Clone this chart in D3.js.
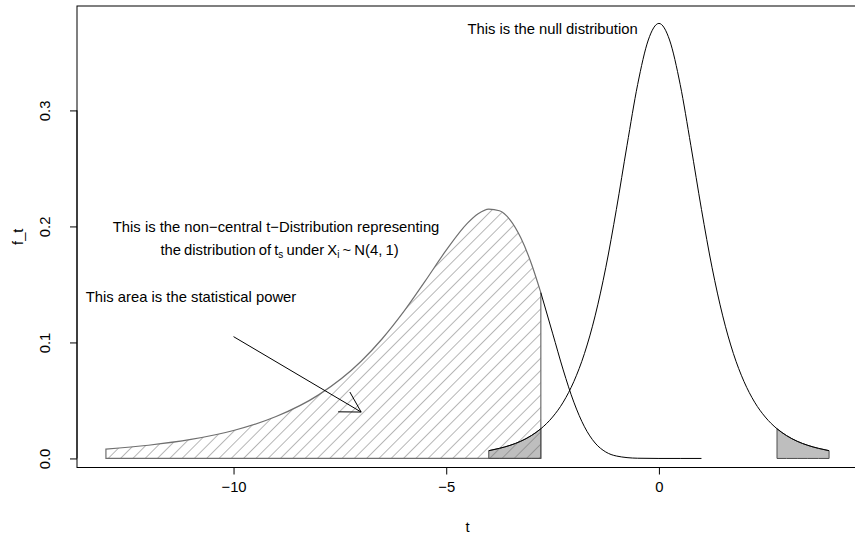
<!DOCTYPE html>
<html lang="en">
<head>
<meta charset="utf-8">
<title>power of the t-test</title>
<script src="https://d3js.org/d3.v7.min.js"></script>
<style>
  body { margin: 0; background: #fff; }
  svg text { font-family: "Liberation Sans", Arial, Helvetica, sans-serif; font-size: 14.8px; fill: #000; }
</style>
</head>
<body>
<svg width="855" height="536"></svg>
<script>
// null distribution (central t, 4 df)
var nullT = [-4, -3.75, -3.5, -3.25, -3, -2.776, -2.5, -2.25, -2, -1.75, -1.5, -1.25, -1, -0.75, -0.5, -0.25, 0,
             0.25, 0.5, 0.75, 1, 1.25, 1.5, 1.75, 2, 2.25, 2.5, 2.776, 3, 3.25, 3.5, 3.75, 4];
var nullF = [0.0067, 0.0087, 0.0113, 0.0148, 0.0197, 0.0256, 0.0357, 0.0485, 0.0663, 0.0905, 0.1229, 0.1644, 0.2147, 0.2699, 0.3223, 0.3607, 0.375,
             0.3607, 0.3223, 0.2699, 0.2147, 0.1644, 0.1229, 0.0905, 0.0663, 0.0485, 0.0357, 0.0256, 0.0197, 0.0148, 0.0113, 0.0087, 0.0067];

// non-central t, the skewed curve on the left
var ncT = [-13, -12, -11, -10, -9, -8, -7, -6.5, -6, -5.5, -5, -4.5, -4.25, -4, -3.75, -3.5, -3.25, -3, -2.776,
           -2.5, -2.25, -2, -1.75, -1.5, -1.25, -1, -0.5, 0, 0.5, 1];
var ncF = [0.0081, 0.0114, 0.0164, 0.0241, 0.0361, 0.0548, 0.0838, 0.1034, 0.1265, 0.1526, 0.1795, 0.2028, 0.2109, 0.2149, 0.2135, 0.2057, 0.1904, 0.1681, 0.1429,
           0.1080, 0.0763, 0.0485, 0.0273, 0.0133, 0.0056, 0.0021, 0.0002, 0, 0, 0];

var critT = 2.776;
var xTicks = [-10, -5, 0];
var yTicks = [0, 0.1, 0.2, 0.3];

var svg = d3.select("svg");
var box = {left: 77, right: 858, top: 6, bottom: 467.5};

var xScale = d3.scaleLinear().domain([-13.68, 4.68]).range([box.left, box.right]);
var yScale = d3.scaleLinear().domain([-0.0078, 0.39]).range([box.bottom, box.top]);

var nullData = nullT.map((t, i) => ({t: t, f: nullF[i]}));
var ncData = ncT.map((t, i) => ({t: t, f: ncF[i]}));

var powerPart = ncData.filter(d => d.t <= -critT);
var ncRest = ncData.filter(d => d.t >= -critT);
var leftTail = nullData.filter(d => d.t <= -critT);
var rightTail = nullData.filter(d => d.t >= critT);

var line = d3.line()
    .x(d => xScale(d.t))
    .y(d => yScale(d.f))
    .curve(d3.curveMonotoneX);
var area = d3.area()
    .x(d => xScale(d.t))
    .y0(yScale(0))
    .y1(d => yScale(d.f))
    .curve(d3.curveMonotoneX);

// hatching like polygon(density=...)
var defs = svg.append("defs");
defs.append("pattern")
    .attr("id", "hatch")
    .attr("patternUnits", "userSpaceOnUse")
    .attr("width", 8.7)
    .attr("height", 8.7)
    .attr("patternTransform", "rotate(45)")
  .append("line")
    .attr("x1", 0).attr("y1", 0)
    .attr("x2", 0).attr("y2", 8.7)
    .attr("stroke", "#6e6e6e")
    .attr("stroke-width", 1);

// grey rejection tails
[leftTail, rightTail].forEach(function(tail) {
  svg.append("path")
      .datum(tail)
      .attr("fill", "#bebebe")
      .attr("stroke", "none")
      .attr("d", area);
});

// power area
svg.append("path")
    .datum(powerPart)
    .attr("fill", "url(#hatch)")
    .attr("stroke", "#6f6f6f")
    .attr("stroke-width", 1.2)
    .attr("d", area);

[leftTail, rightTail].forEach(function(tail) {
  svg.append("path")
      .datum(tail)
      .attr("fill", "none")
      .attr("stroke", "#4d4d4d")
      .attr("stroke-width", 1)
      .attr("d", area);
});

svg.append("path")
    .datum(ncRest)
    .attr("fill", "none")
    .attr("stroke", "#000")
    .attr("stroke-width", 1)
    .attr("d", line);

svg.append("path")
    .datum(nullData)
    .attr("fill", "none")
    .attr("stroke", "#000")
    .attr("stroke-width", 1)
    .attr("d", line);

// frame
svg.append("rect")
    .attr("x", box.left)
    .attr("y", box.top)
    .attr("width", box.right - box.left)
    .attr("height", box.bottom - box.top)
    .attr("fill", "none")
    .attr("stroke", "#000");

// axes, R style
var gx = svg.append("g")
    .attr("transform", `translate(0, ${box.bottom})`)
    .call(d3.axisBottom(xScale).tickValues(xTicks).tickSize(7).tickFormat(d => d3.format("d")(d)));
gx.select(".domain").remove();
gx.selectAll(".tick line").attr("stroke", "#000");
gx.selectAll(".tick text").attr("y", 24.5).attr("dy", 0);
gx.append("line")
    .attr("x1", xScale(xTicks[0])).attr("x2", xScale(xTicks[xTicks.length - 1]))
    .attr("stroke", "#000");

var gy = svg.append("g")
    .attr("transform", `translate(${box.left}, 0)`)
    .call(d3.axisLeft(yScale).tickValues(yTicks).tickSize(7).tickFormat(d3.format(".1f")));
gy.select(".domain").remove();
gy.selectAll(".tick line").attr("stroke", "#000");
gy.selectAll(".tick text")
    .attr("transform", "rotate(-90)")
    .attr("x", 0)
    .attr("y", -27)
    .attr("dy", 0)
    .attr("text-anchor", "middle");
gy.append("line")
    .attr("y1", yScale(yTicks[0])).attr("y2", yScale(yTicks[yTicks.length - 1]))
    .attr("stroke", "#000");

svg.append("text")
    .attr("x", (box.left + box.right) / 2)
    .attr("y", 532)
    .attr("text-anchor", "middle")
    .text("t");

svg.append("text")
    .attr("transform", `translate(23, ${(box.top + box.bottom) / 2}) rotate(-90)`)
    .attr("text-anchor", "middle")
    .text("f_t");

// annotations
svg.append("text")
    .attr("x", xScale(-2.5))
    .attr("y", yScale(0.37))
    .attr("dy", "0.35em")
    .attr("text-anchor", "middle")
    .text("This is the null distribution");

svg.append("text")
    .attr("x", xScale(-9))
    .attr("y", yScale(0.2))
    .attr("dy", "0.35em")
    .attr("text-anchor", "middle")
    .text("This is the non\u2212central t\u2212Distribution representing");

var line2 = svg.append("text")
    .attr("x", xScale(-8.92))
    .attr("y", yScale(0.18))
    .attr("dy", "0.35em")
    .attr("text-anchor", "middle")
    .attr("word-spacing", "-1px");
line2.append("tspan").text("the distribution of t");
line2.append("tspan").attr("dy", 3).style("font-size", "10px").text("s");
line2.append("tspan").attr("dy", -3).text(" under X");
line2.append("tspan").attr("dy", 3).style("font-size", "10px").text("i");
line2.append("tspan").attr("dy", -3).text(" ~ N(4, 1)");

svg.append("text")
    .attr("x", xScale(-11))
    .attr("y", yScale(0.139))
    .attr("dy", "0.35em")
    .attr("text-anchor", "middle")
    .text("This area is the statistical power");

// arrow with open head
var a0 = [xScale(-10), yScale(0.105)];
var a1 = [xScale(-7), yScale(0.04)];
var ang = Math.atan2(a0[1] - a1[1], a0[0] - a1[0]);
var headLen = 23;
var arrow = svg.append("g").attr("stroke", "#000").attr("stroke-width", 1);
arrow.append("line")
    .attr("x1", a0[0]).attr("y1", a0[1])
    .attr("x2", a1[0]).attr("y2", a1[1]);
[-Math.PI / 6, Math.PI / 6].forEach(function(da) {
  arrow.append("line")
      .attr("x1", a1[0]).attr("y1", a1[1])
      .attr("x2", a1[0] + headLen * Math.cos(ang + da))
      .attr("y2", a1[1] + headLen * Math.sin(ang + da));
});
</script>
</body>
</html>
